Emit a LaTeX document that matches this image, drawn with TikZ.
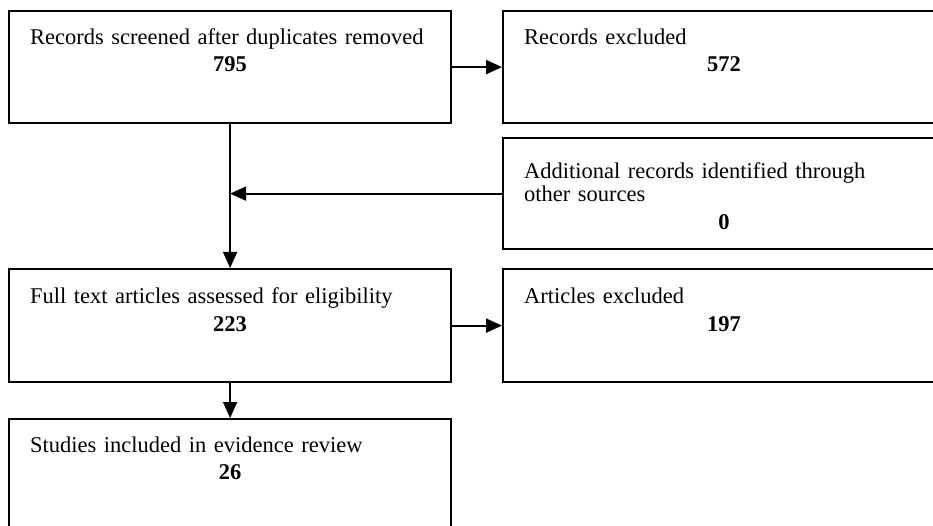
\documentclass[tikz,border=0pt]{standalone}
\usepackage{fontspec}
\setmainfont{Liberation Serif}
\usetikzlibrary{arrows.meta}

\tikzset{
  box/.style={draw,line width=2.2pt,anchor=north west,inner xsep=21pt,inner ysep=0pt,
    text width=400pt,align=left,text height=33pt,text depth=79pt,
    font=\fontsize{22.5}{23}\selectfont},
  flow/.style={-{Triangle[length=16pt,width=14pt]},line width=1.9pt}
}

\begin{document}
\begin{tikzpicture}[x=1pt,y=-1pt]
        \clip (0,0) rectangle (933,526);
        \draw
        (8,10) node[box] (screened){Records screened after duplicates removed\par\vspace{4.6pt}\centerline{\textbf{795}}}
        (502,10) node[box] (excl1){Records excluded\par\vspace{4.6pt}\centerline{\textbf{572}}}
        (502,137) node[box,text height=40pt,text depth=71pt] (other){Additional records identified through\\other sources\par\vspace{5.5pt}\centerline{\textbf{0}}}
        (8,268) node[box,text height=34.5pt,text depth=78.5pt] (fulltext){Full text articles assessed for eligibility\par\vspace{4.6pt}\centerline{\textbf{223}}}
        (502,268) node[box,text height=34.5pt,text depth=78.5pt] (excl2){Articles excluded\par\vspace{4.6pt}\centerline{\textbf{197}}}
        (8,418) node[box] (included){Studies included in evidence review\par\vspace{4.6pt}\centerline{\textbf{26}}};
      \begin{scope}[flow]
        \draw (screened) -- (excl1);
        \draw (screened) -- (fulltext);
        \draw (other.west) -- (other.west -| screened.south);
        \draw (fulltext) -- (excl2);
        \draw (fulltext) -- (included);
      \end{scope}

    \end{tikzpicture}
\end{document}
